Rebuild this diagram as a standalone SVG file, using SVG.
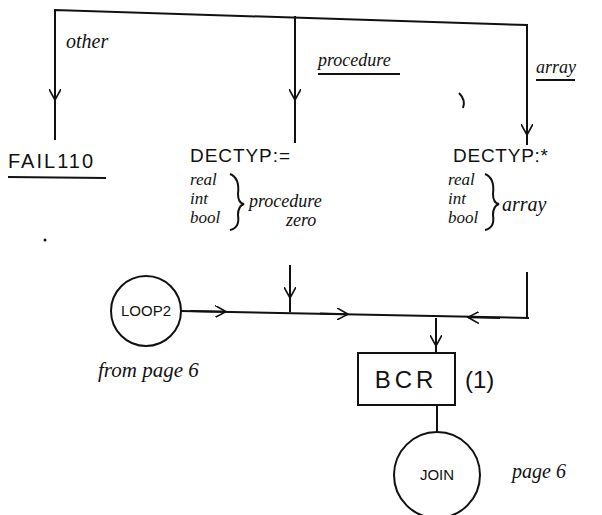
<svg xmlns="http://www.w3.org/2000/svg" width="602" height="515" viewBox="0 0 602 515">
<defs>
<marker id="ah" viewBox="0 0 12 12" refX="11" refY="6" markerWidth="12" markerHeight="12" markerUnits="userSpaceOnUse" orient="auto">
<path d="M0,0 L11,6 L0,12" fill="none" stroke="#111" stroke-width="1.6"/>
</marker>
<style>
.ln{fill:none;stroke:#111;stroke-width:2}
.t{font-family:"Liberation Sans",Arial,sans-serif;font-size:19px;fill:#111}
.s{font-family:"Liberation Sans",Arial,sans-serif;font-size:15px;fill:#111}
.h{font-family:"Liberation Serif",serif;font-style:italic;font-size:18px;fill:#111}
.l{font-family:"Liberation Serif",serif;font-style:italic;font-size:17px;fill:#111}
.b{font-family:"Liberation Sans",Arial,sans-serif;font-size:24px;fill:#111}
</style>
</defs>
<rect width="602" height="515" fill="#fff"/>
<g id="connectors">
<path class="ln" d="M55,140 L55,10 L527,25 L527,145"/>
<path class="ln" d="M295,16 L295,143"/>
<path class="ln" d="M55,80 L55,100" marker-end="url(#ah)"/>
<path class="ln" d="M295,80 L295,100" marker-end="url(#ah)"/>
<path class="ln" d="M527,118 L527,135" marker-end="url(#ah)"/>
<path class="ln" d="M290,265 L290,312"/>
<path class="ln" d="M290,280 L290,298" marker-end="url(#ah)"/>
<path class="ln" d="M181,311 L529,318"/>
<path class="ln" d="M527,272 L527,318"/>
<path class="ln" d="M190,311 L226,311.7" marker-end="url(#ah)"/>
<path class="ln" d="M320,313.6 L348,314.2" marker-end="url(#ah)"/>
<path class="ln" d="M500,318 L468,317.3" marker-end="url(#ah)"/>
<path class="ln" d="M436,318 L436,352"/>
<path class="ln" d="M436,330 L436,346" marker-end="url(#ah)"/>
<path class="ln" d="M437,405 L437,432"/>
</g>
<g id="labels">
<text class="h" x="66" y="48" style="font-size:20px">other</text>
<text class="h" x="318" y="66">procedure</text>
<path class="ln" stroke-width="1.5" d="M318,74 L400,74"/>
<text class="h" x="536" y="73">array</text>
<path class="ln" stroke-width="1.5" d="M536,80 L575,80"/>
<path class="ln" stroke-width="1.5" d="M459,93 Q466,100 463,108"/>
</g>
<g id="fail110">
<text class="t" x="8" y="168" style="font-size:20px" letter-spacing="2">FAIL110</text>
<path class="ln" stroke-width="1.5" d="M8,177 L106,178"/>
</g>
<g id="dectyp-proc">
<text class="t" x="190" y="162" textLength="100">DECTYP:=</text>
<text class="l" x="190" y="185">real</text>
<text class="l" x="190" y="204">int</text>
<text class="l" x="190" y="223">bool</text>
<path class="ln" stroke-width="1.5" d="M230,174 Q240,178 238,194 Q238,203 244,204 Q238,206 238,215 Q240,228 230,230"/>
<text class="h" x="249" y="207">procedure</text>
<text class="h" x="286" y="226">zero</text>
</g>
<g id="dectyp-array">
<text class="t" x="453" y="162" textLength="95">DECTYP:*</text>
<text class="l" x="448" y="185">real</text>
<text class="l" x="448" y="204">int</text>
<text class="l" x="448" y="223">bool</text>
<path class="ln" stroke-width="1.5" d="M485,174 Q495,178 493,194 Q493,203 499,204 Q493,206 493,215 Q495,228 485,230"/>
<text class="h" x="502" y="211" style="font-size:20px">array</text>
</g>
<circle cx="45" cy="240" r="1.5" fill="#111"/>
<g id="loop2">
<circle class="ln" cx="146" cy="311" r="35"/>
<text class="s" x="146" y="316" text-anchor="middle">LOOP2</text>
<text class="h" x="98" y="377" style="font-size:21px">from page 6</text>
</g>
<g id="bcr">
<rect class="ln" x="358" y="353" width="97" height="52"/>
<text class="b" x="406" y="388" text-anchor="middle" letter-spacing="4">BCR</text>
<text class="b" x="465" y="388">(1)</text>
</g>
<g id="join">
<circle class="ln" cx="437" cy="475" r="43"/>
<text class="s" x="437" y="480" text-anchor="middle">JOIN</text>
<text class="h" x="512" y="478" style="font-size:20px">page 6</text>
</g>
</svg>
